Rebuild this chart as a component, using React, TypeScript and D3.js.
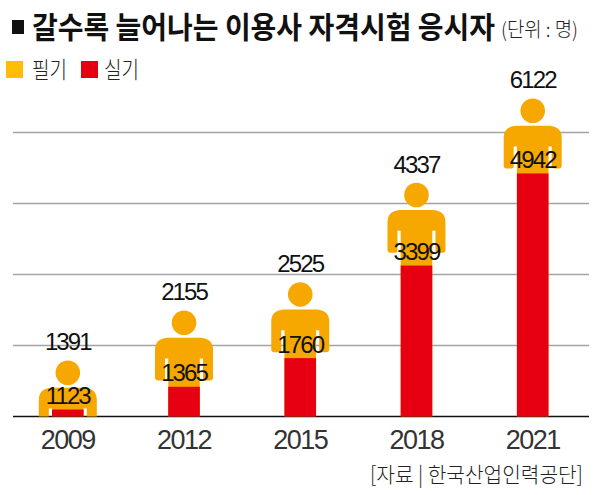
import { scaleLinear, scalePoint } from "d3";

const years = ["2009", "2012", "2015", "2018", "2021"];
const written = [1391, 2155, 2525, 4337, 6122];
const practical = [1123, 1365, 1760, 3399, 4942];
const gridLevels = [0, 1, 2, 3, 4];

const legendItems = ["필기", "실기"];
const YELLOW = "#f7a800";
const RED = "#e60012";
const LEGEND_YELLOW = "#ffbe00";
const LATIN = "'Liberation Sans', Arial, sans-serif";
const KOREAN = "'Noto Sans CJK KR', sans-serif";

const baseline = 416.5;
const gridStep = 71;

// the original graphic is hand drawn and not to scale, and each figure
// has its own one, so the scales are piecewise
const personHeight = scaleLinear()
  .domain([1400, 2200, 2500, 4300, 6100])
  .range([56.6, 109, 133, 232, 317]);
const barHeight = scaleLinear()
  .domain([1100, 1400, 1800, 3400, 5000])
  .range([4.8, 33, 61.2, 151, 246.5]);

const x = scalePoint<string>().domain(years).range([67.8, 532.7]);

const Person = ({ cx, top }: { cx: number; top: number }) => {
  const shoulder = top + 27.3;
  const armBottom = top + 70;
  const slitTop = top + 48;
  const half = 29;
  const bodyHalf = 15.8;
  const slit = 3.2;
  const r = 9;
  // outer arm + shoulders outline, the body column is drawn apart
  const d = [
    `M${cx - half + 3},${armBottom}`,
    `Q${cx - half},${armBottom} ${cx - half},${armBottom - 3}`,
    `V${shoulder + r + 3}`,
    `Q${cx - half},${shoulder + 1} ${cx - half + r + 3},${shoulder}`,
    `H${cx + half - r - 3}`,
    `Q${cx + half},${shoulder + 1} ${cx + half},${shoulder + r + 3}`,
    `V${armBottom - 3}`,
    `Q${cx + half},${armBottom} ${cx + half - 3},${armBottom}`,
    `H${cx + bodyHalf + slit + 2}`,
    `Q${cx + bodyHalf + slit},${armBottom} ${cx + bodyHalf + slit},${armBottom - 2}`,
    `V${slitTop}`,
    `H${cx + bodyHalf}`,
    `V${baseline}`,
    `H${cx - bodyHalf}`,
    `V${slitTop}`,
    `H${cx - bodyHalf - slit}`,
    `V${armBottom - 2}`,
    `Q${cx - bodyHalf - slit},${armBottom} ${cx - bodyHalf - slit - 2},${armBottom}`,
    "Z",
  ].join(" ");
  return (
    <g fill={YELLOW} clipPath="url(#above-axis)">
      <circle cx={cx} cy={top + 12.3} r={12.3} />
      <path d={d} />
    </g>
  );
};

export default function App() {
  return (
    <svg
      width={600}
      height={495}
      style={{ position: "absolute", left: 0, top: 0, background: "#fff" }}
    >
      <defs>
        <clipPath id="above-axis">
          <rect x={0} y={0} width={600} height={baseline} />
        </clipPath>
      </defs>

      {/* Title, squeezed like the condensed face of the original */}
      <rect x={12} y={20} width={12} height={14} fill="#111" />
      <text
        transform="translate(32,38) scale(0.933,1)"
        fontFamily={KOREAN}
        fontWeight={700}
        fontSize={30}
        fill="#111"
      >
        갈수록 늘어나는 이용사 자격시험 응시자
      </text>
      <text
        x={501}
        y={37}
        fontFamily={KOREAN}
        fontWeight={300}
        fontSize={20}
        textLength={77}
        lengthAdjust="spacingAndGlyphs"
        fill="#222"
      >
        (단위 : 명)
      </text>

      {/* Legend */}
      {legendItems.map((label, i) => (
        <g key={label}>
          <rect
            x={6 + i * 75}
            y={61}
            width={17}
            height={17}
            fill={i === 0 ? LEGEND_YELLOW : RED}
          />
          <text
            x={32 + i * 72}
            y={78}
            fontFamily={KOREAN}
            fontWeight={300}
            fontSize={23}
            textLength={35}
            lengthAdjust="spacingAndGlyphs"
            fill="#222"
          >
            {label}
          </text>
        </g>
      ))}

      {/* Grid */}
      {gridLevels.map((i) => (
        <line
          key={i}
          x1={13}
          x2={589}
          y1={baseline - i * gridStep}
          y2={baseline - i * gridStep}
          stroke={i === 0 ? "#111" : "#a3a3a3"}
          strokeWidth={1.5}
        />
      ))}

      {/* Figures */}
      {years.map((year, i) => {
        const cx = x(year) ?? 0;
        const top = baseline - personHeight(written[i]);
        const barTop = baseline - barHeight(practical[i]);
        return (
          <g key={year}>
            <Person cx={cx} top={top} />
            <rect
              x={cx - 15.8}
              y={barTop}
              width={31.6}
              height={baseline - barTop}
              fill={RED}
            />
            <text
              x={cx}
              y={top - 10}
              textAnchor="middle"
              fontFamily={LATIN}
              fontSize={24}
              letterSpacing={-1.9}
              fill="#111"
            >
              {written[i]}
            </text>
            <text
              x={cx}
              y={barTop - 5.5}
              textAnchor="middle"
              fontFamily={LATIN}
              fontSize={24}
              letterSpacing={-1.9}
              fill="#111"
            >
              {practical[i]}
            </text>
            <text
              x={cx}
              y={449}
              textAnchor="middle"
              fontFamily={LATIN}
              fontSize={27}
              letterSpacing={-1.5}
              fill="#333"
            >
              {year}
            </text>
          </g>
        );
      })}

      {/* Source */}
      <text
        x={370}
        y={482}
        fontFamily={KOREAN}
        fontWeight={300}
        fontSize={21}
        textLength={213}
        lengthAdjust="spacingAndGlyphs"
        fill="#222"
      >
        [자료 | 한국산업인력공단]
      </text>
    </svg>
  );
}
